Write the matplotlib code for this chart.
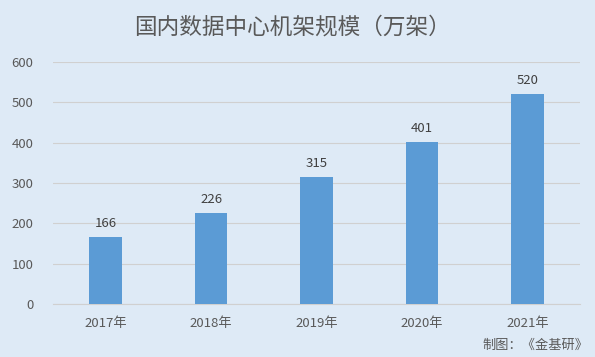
import matplotlib
matplotlib.use("Agg")
import matplotlib.pyplot as plt

plt.rcParams['font.family'] = ['Noto Sans CJK SC', 'DejaVu Sans']

years = ["2017年", "2018年", "2019年", "2020年", "2021年"]
values = [166, 226, 315, 401, 520]
yticks = [0, 100, 200, 300, 400, 500, 600]

bg = "#DEEAF6"
fig = plt.figure(figsize=(5.95, 3.57), dpi=100, facecolor=bg)
ax = fig.add_axes([53/595, 1-304/357, 527/595, (304-62)/357], facecolor=bg)

x = range(len(years))
bars = ax.bar(x, values, width=0.31, color="#5B9BD5", zorder=3)
for xi, v in zip(x, values):
    ax.text(xi, v + 18, str(v), ha="center", va="bottom", fontsize=9.5, color="#404040")

ax.set_xlim(-0.5, len(years) - 0.5)
ax.set_ylim(0, 600)
ax.set_yticks(yticks)
ax.set_yticklabels([str(t) for t in yticks])
ax.set_xticks(list(x))
ax.set_xticklabels(years)
ax.tick_params(axis="both", length=0, labelsize=9.5, colors="#595959")
ax.tick_params(axis="y", pad=14)
ax.tick_params(axis="x", pad=9)
ax.grid(axis="y", color="#D0D0D0", linewidth=0.8, zorder=0)
for s in ["top", "right", "left"]:
    ax.spines[s].set_visible(False)
ax.spines["bottom"].set_color("#D0D0D0")

fig.text(292/595, 1-27/357, "国内数据中心机架规模（万架）", ha="center", va="center",
         fontsize=16.3, color="#595959")
fig.text(588/595, 1-345/357, "制图：《金基研》", ha="right", va="center",
         fontsize=9.5, color="#595959")

fig.savefig("out.png", dpi=100, facecolor=bg)
